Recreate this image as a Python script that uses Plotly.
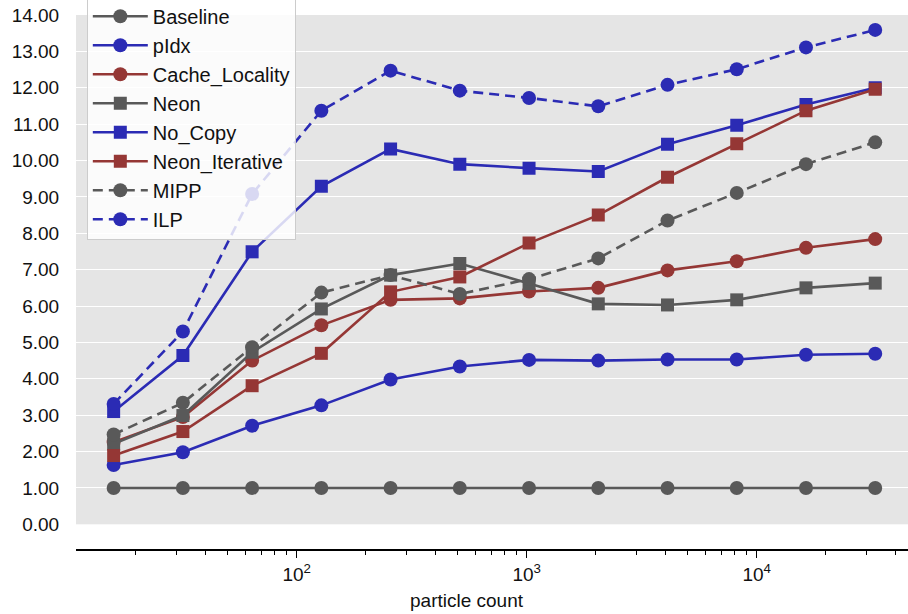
import plotly.graph_objects as go

particle_count = [16, 32, 64, 128, 256, 512, 1024, 2048, 4096, 8192, 16384, 32768]

baseline = [1.00, 1.00, 1.00, 1.00, 1.00, 1.00, 1.00, 1.00, 1.00, 1.00, 1.00, 1.00]
pidx = [1.63, 1.98, 2.71, 3.27, 3.98, 4.34, 4.52, 4.50, 4.53, 4.53, 4.66, 4.69]
cache_locality = [2.26, 2.95, 4.50, 5.47, 6.17, 6.21, 6.40, 6.50, 6.98, 7.23, 7.60, 7.84]
neon = [2.21, 2.99, 4.73, 5.92, 6.85, 7.17, 6.62, 6.06, 6.03, 6.17, 6.50, 6.63]
no_copy = [3.10, 4.64, 7.49, 9.29, 10.32, 9.90, 9.79, 9.70, 10.45, 10.97, 11.54, 12.00]
neon_iterative = [1.89, 2.55, 3.81, 4.70, 6.39, 6.80, 7.73, 8.50, 9.54, 10.46, 11.37, 11.96]
mipp = [2.47, 3.34, 4.87, 6.37, 6.85, 6.33, 6.74, 7.31, 8.35, 9.11, 9.90, 10.50]
ilp = [3.31, 5.30, 9.08, 11.37, 12.47, 11.92, 11.72, 11.49, 12.08, 12.51, 13.11, 13.59]

x_tick_vals = [100, 1000, 10000]
x_tick_text = ["10<sup>2</sup>", "10<sup>3</sup>", "10<sup>4</sup>"]
minor_vals = [20, 30, 40, 50, 60, 70, 80, 90,
              200, 300, 400, 500, 600, 700, 800, 900,
              2000, 3000, 4000, 5000, 6000, 7000, 8000, 9000,
              20000, 30000, 40000]

GRAY = "#595959"
BLUE = "#2b2bb4"
RED = "#953735"

series = [
    ("Baseline", baseline, GRAY, "circle", "solid"),
    ("pIdx", pidx, BLUE, "circle", "solid"),
    ("Cache_Locality", cache_locality, RED, "circle", "solid"),
    ("Neon", neon, GRAY, "square", "solid"),
    ("No_Copy", no_copy, BLUE, "square", "solid"),
    ("Neon_Iterative", neon_iterative, RED, "square", "solid"),
    ("MIPP", mipp, GRAY, "circle", "10px,6px"),
    ("ILP", ilp, BLUE, "circle", "10px,6px"),
]

fig = go.Figure()
for name, vals, col, sym, dash in series:
    fig.add_trace(go.Scatter(
        x=particle_count, y=vals, name=name, mode="lines+markers",
        legendgroup=name,
        line=dict(color=col, width=2.6, dash=dash),
        marker=dict(color=col, symbol=sym, size=14 if sym == "circle" else 13,
                    line=dict(width=0)),
    ))

FONT = "Liberation Sans, Arial, sans-serif"
FS = 19

fig.update_layout(
    width=908, height=614,
    margin=dict(l=76, r=0, t=15, b=64, autoexpand=False),
    paper_bgcolor="white",
    plot_bgcolor="#e5e5e5",
    font=dict(family=FONT, size=FS, color="#111111"),
    showlegend=True,
    legend=dict(
        x=0.013, y=1.036, xanchor="left", yanchor="top",
        bgcolor="rgba(255,255,255,0.82)", bordercolor="#cccccc", borderwidth=1,
        font=dict(family=FONT, size=20, color="#111111"),
        traceorder="grouped", tracegroupgap=0, itemwidth=55,
    ),
    xaxis=dict(
        type="log", range=[1.0404, 4.658],
        anchor="free", position=0,
        showline=True, linecolor="black", linewidth=1.5,
        showgrid=False, zeroline=False,
        tickmode="array", tickvals=x_tick_vals, ticktext=x_tick_text,
        ticks="outside", ticklen=7, tickwidth=1.2, tickcolor="black",
        minor=dict(tickmode="array", tickvals=minor_vals, ticks="outside",
                   ticklen=4, tickwidth=1, tickcolor="black", showgrid=False),
        tickfont=dict(family=FONT, size=FS, color="#111111"),
    ),
    yaxis=dict(
        domain=[0.048, 1], range=[0, 14],
        tickmode="array", tickvals=list(range(0, 15)),
        tickformat=".2f",
        showline=False, zeroline=False,
        showgrid=True, gridcolor="white", gridwidth=1,
        ticks="outside", ticklen=0, ticklabelstandoff=12,
        tickfont=dict(family=FONT, size=FS, color="#111111"),
    ),
    annotations=[dict(
        text="particle count", xref="paper", yref="paper",
        x=0.47, y=-0.095, xanchor="center", yanchor="middle",
        showarrow=False, font=dict(family=FONT, size=FS, color="#111111"),
    )],
)

fig.write_html("out.html")
